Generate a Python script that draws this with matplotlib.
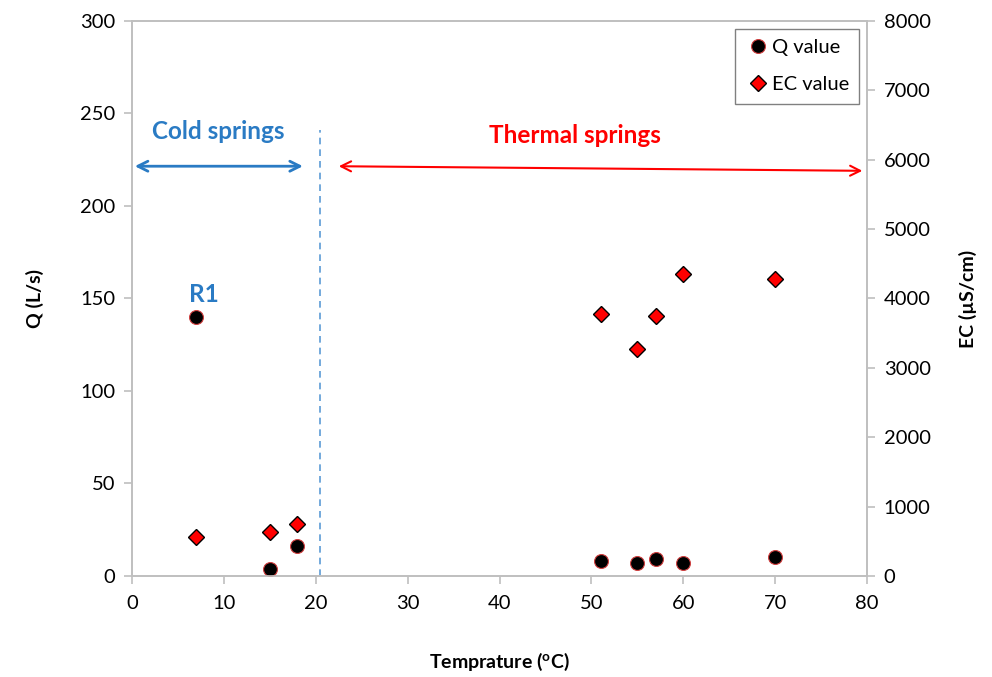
import matplotlib.pyplot as plt

plt.rcParams['font.family'] = ['Lato', 'DejaVu Sans']

# spring data
temp = [7, 15, 18, 51, 55, 57, 60, 70]
q_value = [140, 4, 16, 8, 7, 9, 7, 10]
ec_value = [560, 640, 750, 3780, 3270, 3750, 4350, 4280]

q_ticks = [0, 50, 100, 150, 200, 250, 300]
ec_ticks = [0, 1000, 2000, 3000, 4000, 5000, 6000, 7000, 8000]
t_ticks = [0, 10, 20, 30, 40, 50, 60, 70, 80]

gray = '#bfbfbf'
blue = '#2a7bc4'

fig = plt.figure(figsize=(9.92, 6.77), dpi=100)
ax = fig.add_axes([0.1331, 0.1492, 0.7409, 0.8198])
ax2 = ax.twinx()

h1, = ax.plot(temp, q_value, 'o', ms=10, mfc='black', mec='#d04040', mew=0.8,
              label='Q value', zorder=5)
h2, = ax2.plot(temp, ec_value, 'D', ms=8, mfc='red', mec='black', mew=1.0,
               label='EC value', zorder=5)

ax.set_xlim(0, 80)
ax.set_ylim(0, 300)
ax2.set_ylim(0, 8000)
ax.set_xticks(t_ticks)
ax.set_yticks(q_ticks)
ax2.set_yticks(ec_ticks)

for a in (ax, ax2):
    for s in a.spines.values():
        s.set_color(gray)
        s.set_linewidth(1.2)
    a.tick_params(colors=gray, labelcolor='black', labelsize=14.5, length=6,
                  width=1.2, direction='out')
ax.tick_params(axis='x', pad=8)
ax.tick_params(axis='y', pad=6)
ax2.tick_params(axis='y', pad=6)

ax.set_xlabel('Temprature ($\\mathregular{^{o}}$C)', fontsize=14,
              fontweight='bold', labelpad=28)
ax.set_ylabel('Q (L/s)', fontsize=14, fontweight='bold', labelpad=26)
ax2.set_ylabel('EC (µS/cm)', fontsize=14, fontweight='bold', labelpad=20)

# spring type annotations
ax.axvline(20.5, ymin=0, ymax=241 / 300, color='#5b9bd5', lw=1.2,
           ls=(0, (4, 3)))
ax.annotate('', xy=(0, 221.5), xytext=(18.9, 221.5),
            arrowprops=dict(arrowstyle='<->', color=blue, lw=2,
                            mutation_scale=18))
ax.annotate('', xy=(22.2, 221.5), xytext=(79.8, 219),
            arrowprops=dict(arrowstyle='<->', color='red', lw=1.5,
                            mutation_scale=18))
ax.text(9.4, 240, 'Cold springs', color=blue, fontsize=17.5,
        fontweight='bold', ha='center', va='center')
ax.text(48.2, 238, 'Thermal springs', color='red', fontsize=17.5,
        fontweight='bold', ha='center', va='center')
ax.text(7.8, 152, 'R1', color=blue, fontsize=17.5, fontweight='bold',
        ha='center', va='center')

leg = ax.legend(handles=[h1, h2], loc='upper right', fontsize=14.5,
                fancybox=False, framealpha=1, edgecolor='#808080',
                borderaxespad=0.4, handletextpad=0.1, handlelength=1.2,
                labelspacing=1.0, borderpad=0.5)
leg.get_frame().set_linewidth(1.0)
leg.set_zorder(10)

fig.savefig('out.png', dpi=100)
